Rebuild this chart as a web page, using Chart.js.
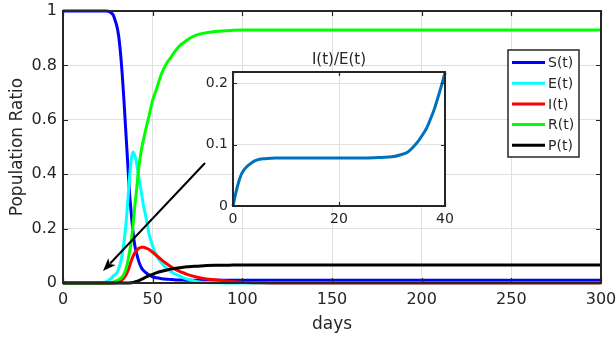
<!DOCTYPE html>
<html>
<head>
<meta charset="utf-8">
<script src="https://cdn.jsdelivr.net/npm/chart.js@4.4.1/dist/chart.umd.min.js"></script>
<style>
  html, body { margin: 0; padding: 0; background: #ffffff; overflow: hidden; }
  #wrap { position: relative; width: 616px; height: 338px; }
  #main { position: absolute; left: 0; top: 0; }
  #inset { position: absolute; left: 195px; top: 45px; }
</style>
</head>
<body>
<div id="wrap">
  <canvas id="main" width="616" height="338"></canvas>
  <canvas id="inset" width="265" height="190"></canvas>
</div>
<script>
// ---------------- data ----------------
const days = [0, 10, 20, 24, 26, 28, 29, 30, 31, 32, 33, 34, 35, 36, 37, 38, 39, 40, 41, 42, 43, 44, 45, 46, 48, 50, 52, 55, 58, 60, 62, 65, 68, 70, 75, 80, 85, 90, 95, 100, 110, 120, 150, 200, 250, 300];
const S = [1, 1, 1, 1, 0.997, 0.985, 0.967, 0.945, 0.91, 0.85, 0.77, 0.67, 0.56, 0.45, 0.34, 0.26, 0.19, 0.14, 0.11, 0.085, 0.066, 0.053, 0.045, 0.039, 0.029, 0.023, 0.019, 0.016, 0.014, 0.013, 0.012, 0.011, 0.0105, 0.01, 0.01, 0.01, 0.01, 0.01, 0.01, 0.01, 0.01, 0.01, 0.01, 0.01, 0.01, 0.01];
const E = [0, 0, 0, 0.004, 0.012, 0.025, 0.031, 0.037, 0.052, 0.073, 0.105, 0.15, 0.21, 0.29, 0.38, 0.45, 0.482, 0.47, 0.44, 0.40, 0.36, 0.32, 0.28, 0.25, 0.18, 0.135, 0.102, 0.073, 0.052, 0.042, 0.035, 0.026, 0.017, 0.013, 0.005, 0.002, 0.001, 0, 0, 0, 0, 0, 0, 0, 0, 0];
const I = [0, 0, 0, 0, 0, 0, 0.001, 0.002, 0.004, 0.007, 0.012, 0.018, 0.028, 0.042, 0.06, 0.08, 0.097, 0.11, 0.12, 0.126, 0.13, 0.131, 0.131, 0.129, 0.123, 0.113, 0.102, 0.085, 0.07, 0.061, 0.053, 0.043, 0.035, 0.03, 0.021, 0.015, 0.012, 0.008, 0.005, 0.003, 0.001, 0, 0, 0, 0, 0];
const R = [0, 0, 0, 0, 0, 0.003, 0.006, 0.009, 0.012, 0.016, 0.022, 0.033, 0.05, 0.075, 0.11, 0.15, 0.21, 0.28, 0.34, 0.41, 0.46, 0.5, 0.53, 0.56, 0.615, 0.672, 0.71, 0.77, 0.81, 0.828, 0.848, 0.872, 0.887, 0.897, 0.913, 0.92, 0.925, 0.927, 0.929, 0.93, 0.93, 0.93, 0.93, 0.93, 0.93, 0.93];
const P = [0, 0, 0, 0, 0, 0, 0, 0, 0, 0, 0, 0, 0, 0, 0, 0.001, 0.002, 0.004, 0.006, 0.008, 0.011, 0.014, 0.017, 0.021, 0.027, 0.032, 0.037, 0.043, 0.048, 0.051, 0.053, 0.056, 0.059, 0.06, 0.062, 0.064, 0.065, 0.065, 0.066, 0.066, 0.066, 0.066, 0.066, 0.066, 0.066, 0.066];
const seriesNames = ['S(t)', 'E(t)', 'I(t)', 'R(t)', 'P(t)'];
const xTickValues = [0, 50, 100, 150, 200, 250, 300];
const yTickValues = [0, 0.2, 0.4, 0.6, 0.8, 1];
const xTitle = 'days';
const yTitle = 'Population Ratio';

// arrow annotation (data coordinates)
const arrowFrom = { x: 79.2, y: 0.441 };
const arrowTo = { x: 22.3, y: 0.044 };

// inset data
const insetTitle = 'I(t)/E(t)';
const insetT = [0, 0.5, 1, 1.5, 2, 2.6, 3, 4, 5, 6, 8, 10, 15, 20, 25, 28, 30, 31.5, 33, 34, 35, 36, 36.5, 37, 38, 38.5, 39, 39.5, 40];
const insetRatio = [0, 0.02, 0.037, 0.05, 0.058, 0.064, 0.067, 0.073, 0.076, 0.077, 0.078, 0.078, 0.078, 0.078, 0.078, 0.079, 0.080, 0.083, 0.088, 0.096, 0.106, 0.119, 0.126, 0.136, 0.158, 0.172, 0.186, 0.201, 0.217];
const insetXTicks = [0, 20, 40];
const insetYTicks = [0, 0.1, 0.2];

// ---------------- styles ----------------
const FONT = "'DejaVu Sans', 'Liberation Sans', sans-serif";
const TXT = '#262626';
const GRID = '#dfdfdf';
const colors = ['#0000ff', '#00ffff', '#ff0000', '#00ff00', '#000000'];
const seriesData = [S, E, I, R, P];

function noPad(s) { s.paddingLeft = 0; s.paddingRight = 0; s.paddingTop = 0; s.paddingBottom = 0; }

function drawFrame(chart, tickLen, lw) {
  const { ctx, chartArea: a, scales: { x, y } } = chart;
  ctx.save();
  ctx.strokeStyle = TXT;
  ctx.lineWidth = lw;
  ctx.strokeRect(a.left, a.top, a.right - a.left, a.bottom - a.top);
  ctx.lineWidth = 1.2;
  ctx.beginPath();
  x.ticks.forEach(t => {
    const px = Math.round(x.getPixelForValue(t.value)) + 0.5;
    ctx.moveTo(px, a.bottom); ctx.lineTo(px, a.bottom - tickLen);
    ctx.moveTo(px, a.top); ctx.lineTo(px, a.top + tickLen);
  });
  y.ticks.forEach(t => {
    const py = Math.round(y.getPixelForValue(t.value)) + 0.5;
    ctx.moveTo(a.left, py); ctx.lineTo(a.left + tickLen, py);
    ctx.moveTo(a.right, py); ctx.lineTo(a.right - tickLen, py);
  });
  ctx.stroke();
  ctx.restore();
}

const mainPlugin = {
  id: 'mainDecor',
  afterDatasetsDraw(chart) {
    const { ctx, scales: { x, y } } = chart;
    drawFrame(chart, 5, 2);
    // arrow
    const x1 = x.getPixelForValue(arrowFrom.x), y1 = y.getPixelForValue(arrowFrom.y);
    const x2 = x.getPixelForValue(arrowTo.x), y2 = y.getPixelForValue(arrowTo.y);
    const ang = Math.atan2(y2 - y1, x2 - x1);
    const hl = 13, hw = 5;
    ctx.save();
    ctx.strokeStyle = '#000'; ctx.fillStyle = '#000'; ctx.lineWidth = 2;
    ctx.beginPath();
    ctx.moveTo(x1, y1);
    ctx.lineTo(x2 - Math.cos(ang) * hl * 0.8, y2 - Math.sin(ang) * hl * 0.8);
    ctx.stroke();
    ctx.beginPath();
    ctx.moveTo(x2, y2);
    ctx.lineTo(x2 - Math.cos(ang) * hl - Math.sin(ang) * hw, y2 - Math.sin(ang) * hl + Math.cos(ang) * hw);
    ctx.lineTo(x2 - Math.cos(ang) * hl * 0.75, y2 - Math.sin(ang) * hl * 0.75);
    ctx.lineTo(x2 - Math.cos(ang) * hl + Math.sin(ang) * hw, y2 - Math.sin(ang) * hl - Math.cos(ang) * hw);
    ctx.closePath();
    ctx.fill();
    ctx.restore();
  },
  afterDraw(chart) {
    const { ctx, chartArea: a } = chart;
    ctx.save();
    ctx.fillStyle = TXT;
    ctx.font = '17px ' + FONT;
    ctx.textAlign = 'center';
    ctx.textBaseline = 'middle';
    ctx.fillText(xTitle, (a.left + a.right) / 2, 325);
    ctx.translate(18, (a.top + a.bottom) / 2);
    ctx.rotate(-Math.PI / 2);
    ctx.fillText(yTitle, 0, 0);
    ctx.restore();
    // legend
    ctx.save();
    const lx = 508, ly = 50, lw = 71, lh = 107;
    ctx.fillStyle = '#fff';
    ctx.fillRect(lx, ly, lw, lh);
    ctx.strokeStyle = TXT; ctx.lineWidth = 1.5;
    ctx.strokeRect(lx, ly, lw, lh);
    ctx.font = '14px ' + FONT;
    ctx.textAlign = 'left'; ctx.textBaseline = 'middle';
    chart.data.datasets.forEach((ds, i) => {
      const ry = 62.5 + i * 20.7;
      ctx.strokeStyle = ds.borderColor; ctx.lineWidth = 3;
      ctx.beginPath(); ctx.moveTo(lx + 4, ry); ctx.lineTo(lx + 37, ry); ctx.stroke();
      ctx.fillStyle = TXT;
      ctx.fillText(ds.label, lx + 40, ry + 1);
    });
    ctx.restore();
  }
};

new Chart(document.getElementById('main'), {
  type: 'line',
  data: {
    datasets: seriesNames.map((name, i) => ({
      label: name,
      data: days.map((t, k) => ({ x: t, y: seriesData[i][k] })),
      borderColor: colors[i],
      backgroundColor: colors[i],
      borderWidth: 3,
      pointRadius: 0,
      cubicInterpolationMode: 'monotone',
      fill: false,
      clip: 3,
      order: seriesNames.length - i
    }))
  },
  options: {
    responsive: false,
    animation: false,
    devicePixelRatio: 1,
    layout: { padding: { left: 0, right: 15, top: 11, bottom: 0 } },
    plugins: { legend: { display: false }, tooltip: { enabled: false }, title: { display: false } },
    scales: {
      x: {
        type: 'linear', min: 0, max: 300,
        afterBuildTicks: s => { s.ticks = xTickValues.map(v => ({ value: v })); },
        ticks: { color: TXT, font: { family: FONT, size: 16 }, padding: 7, maxRotation: 0, autoSkip: false },
        grid: { color: GRID, lineWidth: 1, drawTicks: false },
        border: { display: false },
        afterFit: s => { s.height = 55; noPad(s); }
      },
      y: {
        type: 'linear', min: 0, max: 1,
        afterBuildTicks: s => { s.ticks = yTickValues.map(v => ({ value: v })); },
        ticks: { color: TXT, font: { family: FONT, size: 16 }, padding: 6, autoSkip: false,
                 callback: v => String(+Number(v).toFixed(1)) },
        grid: { color: GRID, lineWidth: 1, drawTicks: false },
        border: { display: false },
        afterFit: s => { s.width = 63; noPad(s); }
      }
    }
  },
  plugins: [mainPlugin]
});

// ---------------- inset ----------------
const insetPlugin = {
  id: 'insetDecor',
  beforeDraw(chart) {
    const { ctx, chartArea: a } = chart;
    ctx.save();
    ctx.fillStyle = '#fff';
    ctx.fillRect(a.left, a.top, a.right - a.left, a.bottom - a.top);
    ctx.restore();
  },
  afterDatasetsDraw(chart) {
    drawFrame(chart, 4, 2);
  },
  afterDraw(chart) {
    const { ctx, chartArea: a } = chart;
    ctx.save();
    ctx.fillStyle = TXT;
    ctx.font = '15px ' + FONT;
    ctx.textAlign = 'center'; ctx.textBaseline = 'middle';
    ctx.fillText(insetTitle, (a.left + a.right) / 2, 15);
    ctx.restore();
  }
};

new Chart(document.getElementById('inset'), {
  type: 'line',
  data: {
    datasets: [{
      label: insetTitle,
      data: insetT.map((t, k) => ({ x: t, y: insetRatio[k] })),
      borderColor: '#0072bd',
      borderWidth: 3,
      pointRadius: 0,
      cubicInterpolationMode: 'monotone',
      fill: false,
      clip: 3
    }]
  },
  options: {
    responsive: false,
    animation: false,
    devicePixelRatio: 1,
    layout: { padding: { left: 0, right: 15, top: 27, bottom: 0 } },
    plugins: { legend: { display: false }, tooltip: { enabled: false } },
    scales: {
      x: {
        type: 'linear', min: 0, max: 40,
        afterBuildTicks: s => { s.ticks = insetXTicks.map(v => ({ value: v })); },
        ticks: { color: TXT, font: { family: FONT, size: 14 }, padding: 5, maxRotation: 0, autoSkip: false },
        grid: { color: GRID, lineWidth: 1, drawTicks: false },
        border: { display: false },
        afterFit: s => { s.height = 29; noPad(s); }
      },
      y: {
        type: 'linear', min: 0, max: 0.218,
        afterBuildTicks: s => { s.ticks = insetYTicks.map(v => ({ value: v })); },
        ticks: { color: TXT, font: { family: FONT, size: 14 }, padding: 5, autoSkip: false,
                 callback: v => String(+Number(v).toFixed(1)) },
        grid: { color: GRID, lineWidth: 1, drawTicks: false },
        border: { display: false },
        afterFit: s => { s.width = 38; noPad(s); }
      }
    }
  },
  plugins: [insetPlugin]
});
</script>
</body>
</html>
